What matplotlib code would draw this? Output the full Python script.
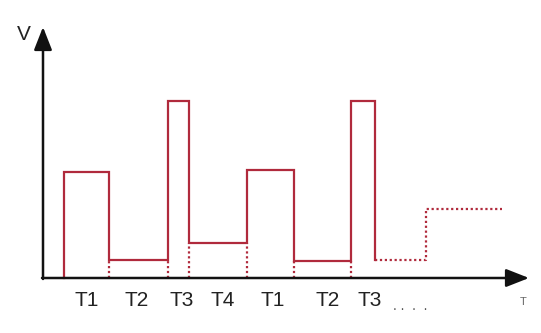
import matplotlib.pyplot as plt

# pulse edges (time, px from origin) and levels (voltage, px above baseline)
edges = [21, 66, 125, 146, 204, 251, 308, 332]
levels = [106, 18, 177, 35, 108, 17, 177]
# dotted continuation
dot_t = [332, 383, 383, 459]
dot_v = [18, 18, 69, 69]
# dotted drop lines under the low segments
drop_t = [66, 125, 146, 204, 251, 308]
drop_v = [18, 18, 35, 35, 17, 17]

labels = ["T1", "T2", "T3", "T4", "T1", "T2", "T3"]
label_x = [44, 94, 139, 180, 230, 285, 327]

red = "#b02a3c"
plt.rcParams['font.family'] = ['Liberation Sans', 'DejaVu Sans']

fig = plt.figure(figsize=(5.41, 3.33), dpi=100)
ax = fig.add_axes([0, 0, 1, 1])
ax.set_xlim(-43, 498)
ax.set_ylim(-55, 278)
ax.axis('off')

# solid pulse train: rise at edges[0], then each level spans edges[i] -> edges[i+1]
xs = [edges[0]]
ys = [0]
for i, lv in enumerate(levels):
    xs += [edges[i], edges[i + 1]]
    ys += [lv, lv]
xs.append(edges[-1])
ys.append(dot_v[0])
ax.plot(xs, ys, color=red, lw=1.6, solid_joinstyle='miter')

ax.plot(dot_t, dot_v, color=red, lw=1.6, ls=(0, (1, 1.2)))
for t, v in zip(drop_t, drop_v):
    ax.plot([t, t], [0, v], color=red, lw=1.6, ls=(0, (1, 1.2)))

# axis arrows
arrow = dict(arrowstyle="-|>,head_length=1.4,head_width=0.55",
             color="#111111", lw=1.8, shrinkA=0, shrinkB=0)
ax.annotate("", xy=(0, 251), xytext=(0, -1), arrowprops=arrow)
ax.annotate("", xy=(486, 0), xytext=(-1, 0), arrowprops=arrow)

ax.text(-19, 243, "V", fontsize=15, color="#222222", ha='center', va='center')
for lx, lb in zip(label_x, labels):
    ax.text(lx, -22, lb, fontsize=15, color="#222222", ha='center', va='center')
ax.text(367, -28, ". .  .  .", fontsize=10, color="#555555", ha='center', va='center')
ax.text(480, -24, "T", fontsize=8, color="#666666", ha='center', va='center')

fig.savefig("out.png", dpi=100)
